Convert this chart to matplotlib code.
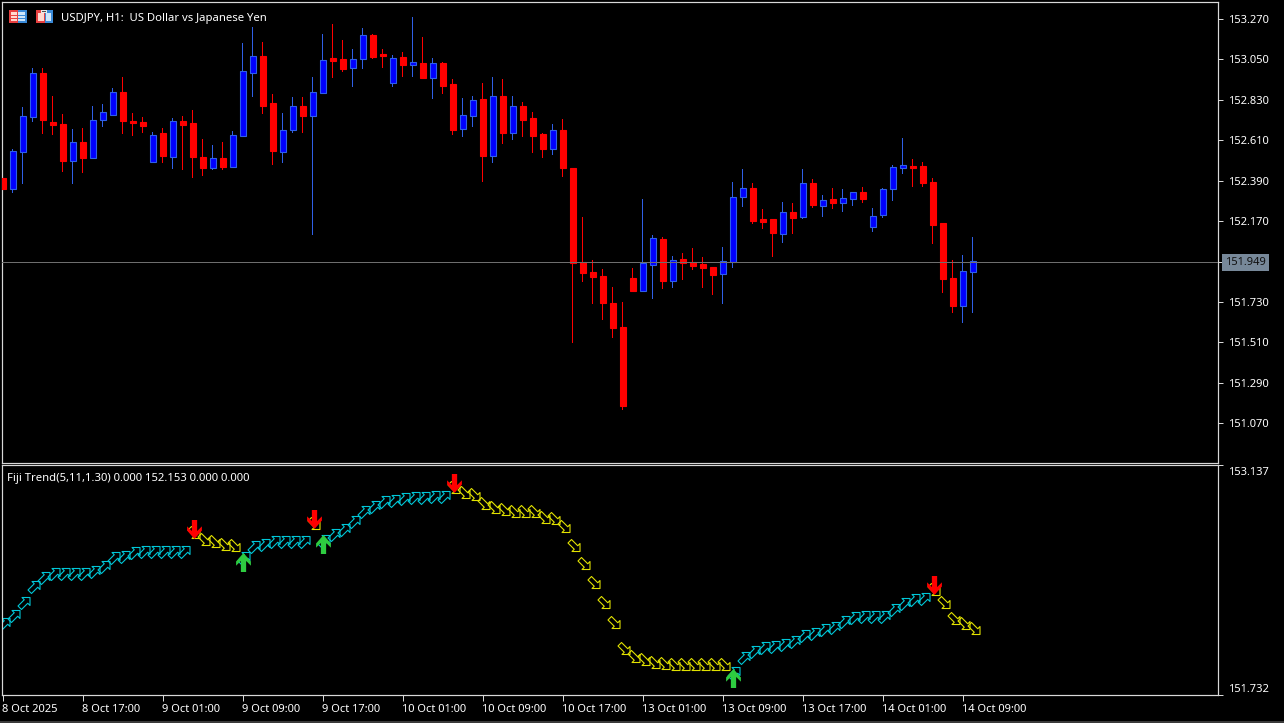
import numpy as np
import matplotlib
matplotlib.use("Agg")
import matplotlib.pyplot as plt
from matplotlib.path import Path
from matplotlib.patches import Rectangle
from matplotlib.transforms import Affine2D, ScaledTranslation

# ---------- data ----------
opens = [152.404,152.344,152.546,152.736,152.976,152.709,152.698,152.497,152.600,152.513,
         152.720,152.747,152.872,152.714,152.709,152.491,152.649,152.518,152.714,152.704,
         152.518,152.458,152.513,152.464,152.633,152.976,153.069,152.813,152.546,152.665,
         152.796,152.742,152.867,153.058,153.052,153.003,153.052,153.183,153.079,152.921,
         153.063,153.020,153.030,152.949,153.030,152.916,152.671,152.742,152.834,152.524,
         152.851,152.649,152.796,152.731,152.644,152.562,152.665,152.458,151.947,151.892,
         151.870,151.723,151.593,151.859,151.789,151.930,152.072,151.843,151.963,151.947,
         151.936,151.919,151.881,151.947,152.301,152.350,152.181,152.181,152.099,152.219,
         152.192,152.377,152.252,152.290,152.268,152.290,152.328,152.137,152.203,152.344,
         152.458,152.469,152.469,152.382,152.159,151.859,151.707,151.892]
highs = [152.404,152.562,152.791,153.003,153.003,152.851,152.753,152.671,152.676,152.796,
         152.807,152.894,152.954,152.758,152.736,152.655,152.676,152.731,152.742,152.774,
         152.616,152.584,152.600,152.660,153.139,153.226,153.145,152.862,152.758,152.845,
         152.845,152.954,153.188,153.243,153.156,153.107,153.221,153.188,153.107,153.074,
         153.090,153.281,153.172,153.058,153.036,152.943,152.840,152.851,152.921,152.954,
         152.943,152.851,152.818,152.764,152.649,152.698,152.725,152.458,152.192,151.958,
         151.908,151.811,151.729,151.914,152.290,152.094,152.083,151.979,151.996,152.023,
         151.974,151.919,152.028,152.382,152.453,152.377,152.235,152.181,152.273,152.268,
         152.453,152.399,152.311,152.350,152.344,152.328,152.355,152.241,152.350,152.475,
         152.622,152.508,152.491,152.404,152.159,151.958,151.985,152.083]
lows = [152.344,152.322,152.371,152.709,152.644,152.638,152.437,152.371,152.431,152.513,
        152.682,152.747,152.644,152.633,152.649,152.491,152.486,152.453,152.448,152.404,
        152.415,152.448,152.448,152.464,152.633,152.845,152.753,152.475,152.486,152.649,
        152.649,152.094,152.862,152.949,152.981,152.900,152.998,153.052,153.003,152.900,
        152.954,152.954,152.949,152.834,152.862,152.638,152.627,152.682,152.382,152.486,
        152.589,152.611,152.627,152.540,152.513,152.529,152.410,151.505,151.838,151.718,
        151.631,151.533,151.140,151.783,151.783,151.745,151.800,151.805,151.849,151.903,
        151.805,151.767,151.718,151.914,152.246,152.154,152.126,151.974,152.050,152.099,
        152.181,152.241,152.192,152.235,152.219,152.252,152.268,152.110,152.186,152.279,
        152.426,152.355,152.355,152.045,151.778,151.669,151.614,151.669]
closes = [152.344,152.551,152.742,152.976,152.720,152.693,152.497,152.600,152.513,152.720,
          152.764,152.872,152.714,152.704,152.687,152.638,152.524,152.714,152.693,152.518,
          152.458,152.513,152.464,152.638,152.987,153.069,152.796,152.551,152.665,152.796,
          152.742,152.872,153.047,153.041,152.998,153.052,153.183,153.063,153.069,153.058,
          153.020,153.036,152.949,153.030,152.905,152.665,152.747,152.829,152.524,152.851,
          152.649,152.796,152.720,152.633,152.562,152.665,152.458,151.941,151.887,151.865,
          151.723,151.587,151.162,151.789,151.941,152.077,151.843,151.958,151.941,151.925,
          151.914,151.876,151.952,152.301,152.350,152.170,152.165,152.105,152.219,152.186,
          152.377,152.257,152.284,152.268,152.295,152.328,152.290,152.197,152.344,152.464,
          152.475,152.458,152.377,152.148,151.854,151.707,151.898,151.952]

trend = [152.166,152.214,152.294,152.392,152.447,152.471,152.471,152.471,152.471,152.483,
         152.514,152.569,152.575,152.599,152.605,152.605,152.605,152.605,152.605,152.728,
         152.685,152.673,152.654,152.648,152.569,152.636,152.648,152.667,152.667,152.667,
         152.667,152.783,152.673,152.709,152.740,152.789,152.850,152.880,152.911,152.917,
         152.929,152.935,152.935,152.941,152.941,153.003,152.972,152.960,152.905,152.880,
         152.868,152.856,152.856,152.856,152.819,152.813,152.764,152.648,152.538,152.422,
         152.300,152.178,152.019,151.970,151.952,151.933,151.927,151.921,151.921,151.921,
         151.921,151.921,151.921,151.866,151.958,151.994,152.019,152.025,152.037,152.056,
         152.092,152.104,152.129,152.141,152.178,152.202,152.208,152.208,152.208,152.251,
         152.288,152.312,152.318,152.379,152.300,152.202,152.172,152.141]
# 1 = uptrend bar, 0 = downtrend bar
trend_up = [1]*19 + [0]*5 + [1]*7 + [0] + [1]*13 + [0]*28 + [1]*20 + [0]*5

buy_bars = [24, 32, 73]
buy_vals = [152.544, 152.654, 151.836]
sell_bars = [19, 31, 45, 93]
sell_vals = [152.746, 152.807, 153.027, 152.404]

price_ticks = [153.270,153.050,152.830,152.610,152.390,152.170,151.730,151.510,151.290,151.070]
last_price = 151.949
panel_ticks = [153.137, 151.732]
time_bars = [0,8,16,24,32,40,48,56,64,72,80,88,96]
time_labels = ["8 Oct 2025","8 Oct 17:00","9 Oct 01:00","9 Oct 09:00","9 Oct 17:00",
               "10 Oct 01:00","10 Oct 09:00","10 Oct 17:00","13 Oct 01:00","13 Oct 09:00",
               "13 Oct 17:00","14 Oct 01:00","14 Oct 09:00"]

# ---------- styling ----------
W, H = 1284, 723
FONT = "Noto Sans"
FS = 8.0
BG = "black"
AXC = "#d8d8d8"
RED = "#ff0000"
BLUE_FILL = "#0000ff"
BLUE_EDGE = "#2f5fe6"
CYAN = "#00c8d8"
YELLOW = "#e2e200"
PX = 72 / 100  # one pixel in points
plt.rcParams["font.family"] = [FONT, "DejaVu Sans"]
plt.rcParams["font.size"] = FS

fig = plt.figure(figsize=(W/100, H/100), dpi=100, facecolor=BG)

def axes_px(l, t, r, b):
    return fig.add_axes([l/W, 1-b/H, (r-l)/W, (b-t)/H], facecolor=BG)

ax = axes_px(2, 2, 1218, 463)
pn = axes_px(2, 465, 1218, 695)
XL = (-0.05, 121.55)
for a in (ax, pn):
    a.set_xlim(*XL)
    for s in a.spines.values():
        s.set_color(AXC)
        s.set_linewidth(1.0*PX*1.2)
    a.yaxis.tick_right()
    a.tick_params(axis="y", colors="white", color=AXC, length=4*PX*1.2, width=PX, pad=4, labelsize=FS)
ax.set_ylim(150.852, 153.363)
pn.set_ylim(151.732, 153.137)

# ---------- candles ----------
x = np.arange(len(opens))
o, h, l, c = map(np.array, (opens, highs, lows, closes))
up = c >= o
for mask, fill, edge in ((~up, RED, RED), (up, BLUE_FILL, BLUE_EDGE)):
    ax.bar(x[mask], (h-l)[mask], bottom=l[mask], width=0.1, facecolor=edge, edgecolor="none", zorder=2)
    lo = np.minimum(o, c)[mask]
    hi = np.maximum(o, c)[mask]
    ax.bar(x[mask], hi-lo, bottom=lo, width=0.6, facecolor=fill, edgecolor=edge,
           linewidth=PX*1.1, zorder=3)

ax.axhline(last_price, color="#6e6e6e", lw=PX, zorder=4)

ax.set_yticks(price_ticks + [last_price])
ax.set_yticklabels([f"{v:.3f}" for v in price_ticks] + [""])
ax.set_xticks([])
ax.annotate(f"{last_price:.3f}", xy=(1.0, last_price), xycoords=ax.get_yaxis_transform(),
            xytext=(7*PX, -1*PX), textcoords="offset points",
            ha="left", va="center", color="#101010", fontsize=FS, annotation_clip=False,
            bbox=dict(boxstyle="square,pad=0.3", fc="#778899", ec="none"))

# ---------- indicator panel ----------
def arrow_ne(sign):
    v = np.array([(6,6),(-2,6),(0.25,3.75),(-6,-2.5),(-2.5,-6),(3.75,0.25),(6,-2),(6,6)], float)
    v[:,0] += 0.5
    v[:,1] *= sign
    return Path(v, closed=True)

def signal_arrow(sign):
    v = np.array([(0,9),(7,1),(7,-3),(2.5,1.5),(2.5,-9),(-2.5,-9),(-2.5,1.5),
                  (-7,-3),(-7,1),(0,9)], float)
    v[:,1] *= sign
    return Path(v, closed=True)

t = np.array(trend)
tu = np.array(trend_up, bool)
pn.plot(x[tu], t[tu], ls="none", marker=arrow_ne(1), ms=13*PX, mfc="none", mec=CYAN, mew=PX*1.1, zorder=2)
pn.plot(x[~tu], t[~tu], ls="none", marker=arrow_ne(-1), ms=13*PX, mfc="none", mec=YELLOW, mew=PX*1.1, zorder=2)
pn.plot(buy_bars, buy_vals, ls="none", marker=signal_arrow(1), ms=19*PX, mfc="#2ecc40", mec="none", zorder=3)
pn.plot(np.array(sell_bars)+0.12, sell_vals, ls="none", marker=signal_arrow(-1), ms=19*PX, mfc=RED, mec="none", zorder=3)

pn.set_yticks(panel_ticks)
pn.set_yticklabels([f"{v:.3f}" for v in panel_ticks])
labs = pn.get_yticklabels()
labs[0].set_va("center")
labs[1].set_va("center")
labs[0].set_transform(labs[0].get_transform() + ScaledTranslation(0, -7/100, fig.dpi_scale_trans))
labs[1].set_transform(labs[1].get_transform() + ScaledTranslation(0, 6/100, fig.dpi_scale_trans))
pn.set_xticks(time_bars)
pn.set_xticklabels(time_labels, ha="left")
pn.tick_params(axis="x", colors="white", color=AXC, length=5*PX*1.2, width=PX, pad=2, labelsize=FS)

# ---------- header text ----------
T = Affine2D().scale(1/W, -1/H).translate(0, 1) + fig.transFigure
fig.text(61, 19, "USDJPY, H1:  US Dollar vs Japanese Yen", transform=T, color="white",
         fontsize=8.13, ha="left", va="center")
fig.text(7, 479, "Fiji Trend(5,11,1.30) 0.000 152.153 0.000 0.000", transform=T, color="white",
         fontsize=8.13, ha="left", va="center")

def box(x0, y0, w, h, col):
    fig.add_artist(Rectangle((x0, y0), w, h, transform=T, facecolor=col, edgecolor="none", zorder=10))

# table icon
box(9, 10, 9, 13, "#e84040"); box(18, 10, 9, 13, "#3a8ad8")
box(11, 12, 6, 9, "#ffd8d0"); box(18, 12, 7, 9, "#cfe6fa")
for yy in (14.5, 17.5):
    box(11, yy, 6, 1, "#e84040"); box(18, yy, 7, 1, "#3a8ad8")
# window icon
box(36, 10, 9, 13, "#e84040"); box(45, 10, 8, 13, "#3a8ad8")
box(38, 13, 6, 8, "#ffd8d0"); box(46, 13, 5, 8, "#cfe6fa")
box(41, 10, 6, 3, "#e8e8e8"); box(42, 11, 4, 1, "#505050")
# bottom window edge
box(0, 721, W, 2, "#3a3a3a")

fig.savefig("out.png", dpi=100, facecolor=BG)
